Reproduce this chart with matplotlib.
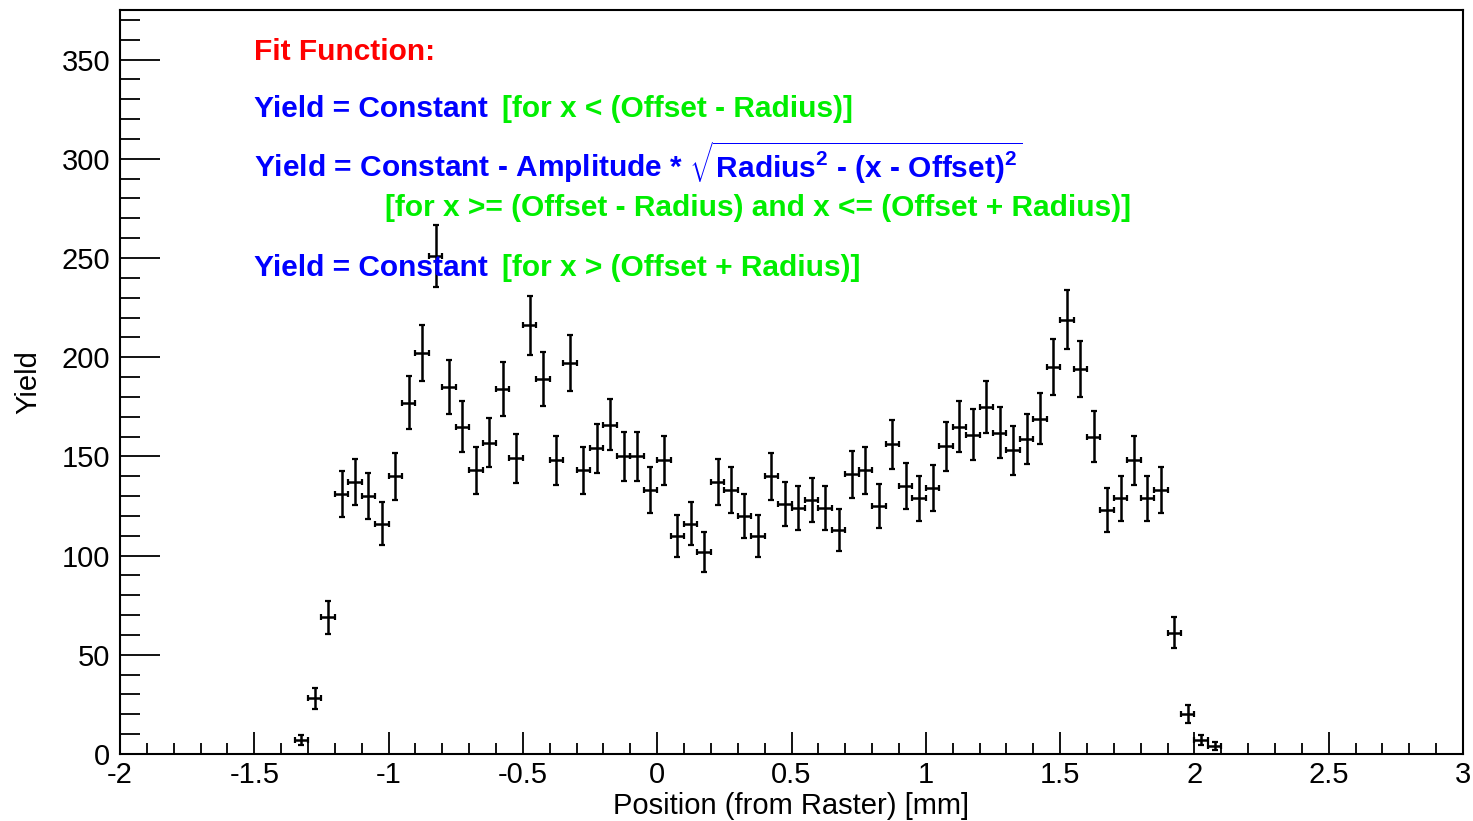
import numpy as np
import matplotlib
matplotlib.use('Agg')
import matplotlib.pyplot as plt
from matplotlib.ticker import MultipleLocator

plt.rcParams['font.family'] = ['Liberation Sans', 'DejaVu Sans']
plt.rcParams['mathtext.fontset'] = 'custom'
plt.rcParams['mathtext.rm'] = 'Liberation Sans:bold'
plt.rcParams['mathtext.it'] = 'Liberation Sans:bold'
plt.rcParams['mathtext.bf'] = 'Liberation Sans:bold'

# -------------------------------------------------------
#                 YIELD VS RASTER POSITION
# -------------------------------------------------------

first_bin_low = -1.35     # mm, lower edge of first filled bin
bin_width = 0.05          # mm
counts = [7, 28, 69, 131, 137, 130, 116, 140, 177, 202,
          251, 185, 165, 143, 157, 184, 149, 216, 189, 148,
          197, 143, 154, 166, 150, 150, 133, 148, 110, 116,
          102, 137, 133, 120, 110, 140, 126, 124, 128, 124,
          113, 141, 143, 125, 156, 135, 129, 134, 155, 165,
          161, 175, 162, 153, 159, 169, 195, 219, 194, 160,
          123, 129, 148, 129, 133, 61, 20, 7, 4]

fit_title = 'Fit Function:'
fit_lines = [
    ('Yield = Constant', '[for x < (Offset - Radius)]'),
    ('Yield = Constant - Amplitude * '
     r'$\sqrt{\text{Radius}^{2}\text{ - (x - Offset)}^{2}}$',
     '[for x >= (Offset - Radius) and x <= (Offset + Radius)]'),
    ('Yield = Constant', '[for x > (Offset + Radius)]'),
]

counts = np.array(counts, dtype=float)
centers = first_bin_low + bin_width * (np.arange(len(counts)) + 0.5)
errors = np.sqrt(counts)

# ............................................................

fig = plt.figure(figsize=(14.73, 8.21), dpi=100)
ax = fig.add_axes([120 / 1473, 67 / 821, 1343 / 1473, 744 / 821])

ax.errorbar(centers, counts, yerr=errors, xerr=bin_width / 2,
            fmt='none', ecolor='black', elinewidth=1.8,
            capsize=2.2, capthick=1.6)

ax.set_xlim(-2, 3)
ax.set_ylim(0, 375)

ax.xaxis.set_major_locator(MultipleLocator(0.5))
ax.xaxis.set_minor_locator(MultipleLocator(0.1))
ax.yaxis.set_major_locator(MultipleLocator(50))
ax.yaxis.set_minor_locator(MultipleLocator(10))
ax.xaxis.set_major_formatter(lambda v, p: f'{v:g}')

ax.tick_params(axis='both', which='both', direction='in', width=1.3,
               labelsize=21, top=False, right=False)
ax.tick_params(axis='x', which='major', length=16, pad=5)
ax.tick_params(axis='x', which='minor', length=8)
ax.tick_params(axis='y', which='major', length=29, pad=7)
ax.tick_params(axis='y', which='minor', length=14.5)
for s in ax.spines.values():
    s.set_linewidth(1.5)

ax.set_xlabel('Position (from Raster) [mm]', fontsize=21, labelpad=2)
ax.set_ylabel('Yield', fontsize=21, labelpad=14)

# fit description
txt_kw = dict(fontsize=21.5, fontweight='bold')
ax.text(-1.5, 350, fit_title, color='red', **txt_kw)
ax.text(-1.5, 321, fit_lines[0][0], color='blue', **txt_kw)
ax.text(-0.578, 321, fit_lines[0][1], color='#00ee00', **txt_kw)
ax.text(-1.5, 290.5, fit_lines[1][0], color='blue', **txt_kw)
ax.text(-1.013, 271, fit_lines[1][1], color='#00ee00', **txt_kw)
ax.text(-1.5, 241, fit_lines[2][0], color='blue', **txt_kw)
ax.text(-0.578, 241, fit_lines[2][1], color='#00ee00', **txt_kw)

fig.savefig('out.png', dpi=100)
